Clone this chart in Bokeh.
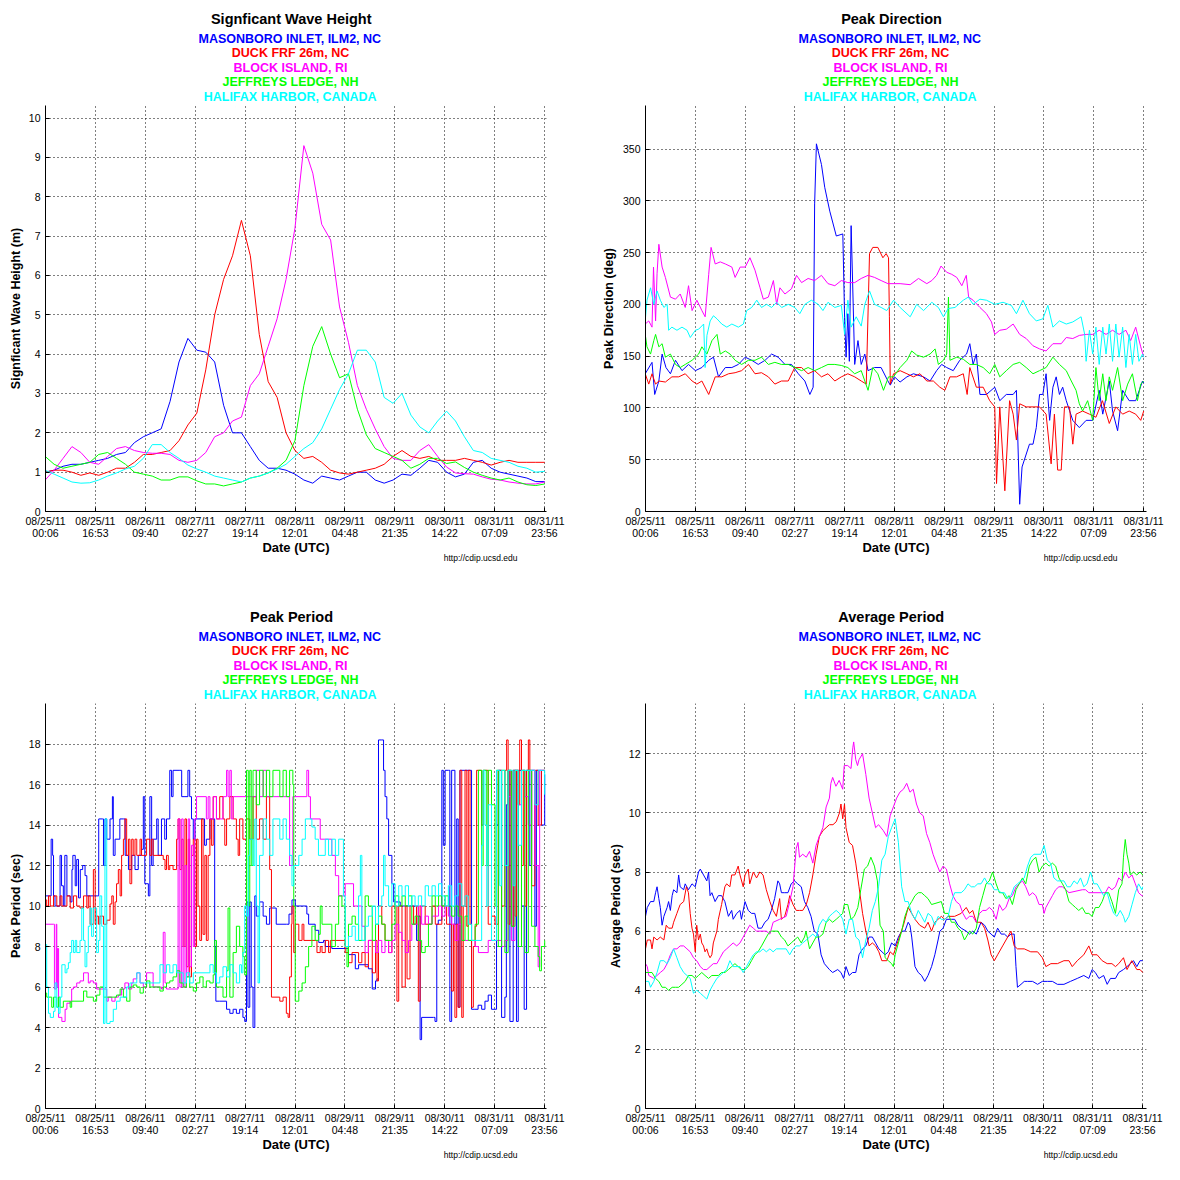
from bokeh.plotting import figure
from bokeh.layouts import gridplot
from bokeh.models import Range1d, FixedTicker, Title
from bokeh.embed import file_html
from bokeh.resources import INLINE

FONT = "Liberation Sans"
STATIONS = ["MASONBORO INLET, ILM2, NC", "DUCK FRF 26m, NC", "BLOCK ISLAND, RI",
            "JEFFREYS LEDGE, NH", "HALIFAX HARBOR, CANADA"]
COLORS = ["#0000FF", "#FF0000", "#FF00FF", "#00FF00", "#00FFFF"]

# x axis: minutes since 08/25/11 00:00 UTC
TICK_MIN = [6, 1013, 2020, 3027, 4034, 5041, 6048, 7055, 8062, 9069, 10076]
TICK_LABELS = ["08/25/11\n00:06", "08/25/11\n16:53", "08/26/11\n09:40", "08/27/11\n02:27",
               "08/27/11\n19:14", "08/28/11\n12:01", "08/29/11\n04:48", "08/29/11\n21:35",
               "08/30/11\n14:22", "08/31/11\n07:09", "08/31/11\n23:56"]

# ---------------- Significant wave height (m), hours since 08/25 00:00 ----------------
HS_HOURS = [0, 3, 6, 9, 12, 15, 18, 21, 24, 27, 30, 33, 36, 39, 42, 45, 48, 51, 54, 57, 60,
            63, 66, 69, 72, 75, 78, 81, 84, 87, 90, 93, 96, 99, 102, 105, 108, 111, 114, 117,
            120, 123, 126, 129, 132, 135, 138, 141, 144, 147, 150, 153, 156, 159, 162, 165, 168]
HS_BLUE = [1.0, 1.05, 1.15, 1.2, 1.2, 1.25, 1.3, 1.35, 1.45, 1.5, 1.75, 1.9, 2.0, 2.1, 2.8, 3.8,
           4.4, 4.1, 4.05, 3.8, 2.7, 2.0, 2.0, 1.65, 1.3, 1.1, 1.1, 1.05, 0.95, 0.8, 0.72, 0.9,
           0.85, 0.8, 0.9, 1.0, 1.0, 0.8, 0.72, 0.8, 0.95, 0.92, 1.1, 1.3, 1.25, 1.0, 0.88, 0.95,
           1.25, 1.3, 1.1, 1.0, 0.95, 0.9, 0.85, 0.76, 0.76]
HS_RED = [1.0, 1.05, 1.05, 1.0, 0.92, 0.98, 0.92, 1.0, 1.1, 1.1, 1.25, 1.45, 1.45, 1.5, 1.55, 1.8,
          2.2, 2.5, 3.6, 5.0, 5.9, 6.5, 7.4, 6.5, 4.5, 3.3, 2.9, 2.0, 1.55, 1.35, 1.4, 1.25, 1.05,
          0.98, 0.95, 1.0, 1.05, 1.1, 1.2, 1.4, 1.55, 1.4, 1.35, 1.4, 1.3, 1.3, 1.3, 1.35, 1.3,
          1.25, 1.18, 1.25, 1.3, 1.25, 1.25, 1.25, 1.25]
HS_MAGENTA = [0.8, 1.05, 1.35, 1.65, 1.5, 1.25, 1.2, 1.4, 1.6, 1.65, 1.55, 1.5, 1.48, 1.48, 1.45,
              1.3, 1.25, 1.3, 1.5, 1.9, 2.0, 2.3, 2.4, 3.2, 3.5, 4.2, 4.9, 5.9, 7.2, 9.3, 8.6, 7.3,
              6.9, 5.2, 4.3, 3.2, 2.6, 2.1, 1.65, 1.35, 1.3, 1.3, 1.55, 1.7, 1.4, 1.13, 0.98, 0.96,
              0.95, 0.88, 0.82, 0.8, 0.75, 0.72, 0.7, 0.7, 0.75]
HS_GREEN = [1.4, 1.2, 1.1, 1.15, 1.2, 1.25, 1.45, 1.5, 1.35, 1.2, 1.0, 0.95, 0.9, 0.8, 0.8, 0.88,
            0.88, 0.78, 0.7, 0.7, 0.65, 0.7, 0.75, 0.85, 0.9, 0.98, 1.1, 1.3, 1.8, 3.2, 4.2, 4.7,
            4.0, 3.4, 3.5, 2.6, 1.95, 1.6, 1.5, 1.4, 1.3, 1.1, 1.2, 1.35, 1.35, 1.22, 1.26, 1.12,
            1.0, 0.92, 0.85, 0.8, 0.85, 0.75, 0.68, 0.66, 0.7]
HS_CYAN = [1.05, 0.95, 0.85, 0.75, 0.72, 0.73, 0.8, 0.9, 0.98, 1.08, 1.15, 1.35, 1.7, 1.7, 1.5,
           1.35, 1.18, 1.08, 1.0, 0.9, 0.85, 0.8, 0.75, 0.85, 0.9, 0.98, 1.08, 1.2, 1.4, 1.6, 1.75,
           2.1, 2.6, 3.1, 3.5, 4.1, 4.1, 3.8, 2.9, 2.75, 3.0, 2.45, 2.15, 2.0, 2.3, 2.55, 2.3, 1.9,
           1.55, 1.5, 1.35, 1.3, 1.25, 1.15, 1.1, 1.0, 1.02]

# ---------------- Peak direction (deg): (hour, value) ----------------
DIR_BLUE = [(0,133),(2.3,144),(3.2,113),(4.6,126),(5.7,152),(7,139),(8.5,133),(10.2,146),(12.4,136),(14.6,142),(16.9,136),(19.1,139),(21.4,146),(23,149),(24.7,130),(27,139),(29.2,139),(31.4,142),(33.7,149),(35.9,146),(38.1,142),(40.4,146),(42.6,152),(44.8,149),(47.1,142),(49.3,142),(51.6,133),(53.8,126),(55.5,113),(56.6,120),(57.1,297),(57.7,355),(59.4,335),(60.5,313),(62.2,290),(64.4,266),(66.6,268),(67.2,187),(67.7,149),(68.3,191),(68.8,145),(69.4,276),(70,210),(70.6,142),(71.7,165),(72.8,142),(74,152),(75.1,136),(77.3,139),(79.5,139),(81.8,126),(82.6,122),(84,130),(85.9,125),(88.2,130),(90.4,133),(93.8,130),(96,126),(98.2,136),(99.9,142),(101.6,139),(103.8,136),(106,146),(108.3,152),(109.4,162),(110.5,142),(111.6,152),(112.8,113),(115,113),(117.8,120),(119.5,107),(121.7,113),(124,113),(125.1,117),(126.2,7),(127,43),(129.5,65),(130.7,65),(131.8,81),(132.9,113),(134,113),(135.1,133),(136.3,88),(137.4,120),(138.5,130),(139.6,113),(140.7,120),(141.9,107),(144.1,88),(146.3,81),(148.6,88),(150.8,88),(153,117),(154.2,94),(156.4,126),(157.5,97),(159.2,78),(160.9,117),(163.1,107),(165.3,107),(167.6,126),(168,124)]
DIR_RED = [(0,133),(1.2,123),(2.3,133),(3.5,123),(4.6,126),(6.8,125),(9,130),(11.3,130),(13.5,133),(15.8,126),(17.4,123),(19.1,126),(21.4,113),(23.6,130),(25.8,130),(28.1,133),(30.3,134),(32.5,136),(34.8,142),(37,133),(39.2,134),(41.5,130),(43.7,123),(45.9,126),(48.2,126),(50.4,139),(52.7,139),(54.9,133),(57.1,136),(59.4,130),(61.6,133),(63.9,126),(66.1,130),(68.3,133),(70.6,130),(72.8,126),(74.5,123),(75.6,249),(76.7,255),(78.4,255),(80.1,245),(81.2,249),(82,245),(82.3,188),(82.6,123),(83.7,133),(85.9,136),(88.2,133),(90.4,130),(92.6,133),(94.9,126),(97.1,126),(99.3,120),(101,117),(102.7,130),(104.9,130),(107.2,133),(108.5,113),(109.4,139),(111.6,120),(113.9,120),(116.1,107),(117.8,101),(118.4,27),(119.5,101),(121.2,20),(122.8,107),(124,94),(125.1,69),(126.2,104),(128.4,101),(130.7,101),(132.9,101),(135.1,94),(136.8,46),(137.9,94),(139,40),(140.2,40),(141.3,101),(143,101),(144.1,65),(145.2,94),(147.4,97),(149.7,94),(151.9,91),(154.1,107),(156.4,85),(158.6,101),(160.9,94),(163.1,97),(165.3,94),(167,88),(168,97)]
DIR_MAGENTA = [(0,181),(1.2,184),(2.3,178),(2.8,236),(3.5,184),(4.0,230),(4.6,258),(5.7,236),(6.8,226),(8.5,207),(10.2,205),(11.8,210),(13.5,197),(14.6,218),(15.8,194),(17.4,204),(19.1,194),(20.2,188),(21.4,229),(22.2,255),(23.6,239),(25.3,241),(27,239),(29.2,236),(30.3,226),(32,236),(33.7,236),(35.3,245),(37,233),(38.7,216),(39.8,205),(41.5,207),(43.2,223),(44.3,200),(45.4,216),(47.1,210),(49.3,215),(51,228),(52.7,221),(54.9,225),(57.1,223),(59.4,228),(61.6,220),(63.9,218),(66.1,223),(68.3,221),(70.6,221),(72.8,225),(75.1,228),(77.3,226),(79.5,223),(81.8,220),(85.9,220),(89.3,219),(92.1,225),(94.9,220),(96.6,223),(98.2,228),(99.7,237),(101.6,231),(103.3,229),(105,226),(106.7,218),(108.2,228),(109,207),(110.5,204),(112.8,197),(115,191),(116.7,183),(117.8,171),(119.5,175),(121.7,176),(124,181),(126.2,171),(128.4,167),(130.7,160),(132.9,157),(135.1,155),(137.4,162),(140.2,162),(141.9,168),(144.1,167),(146.3,170),(148.6,171),(150.8,171),(153,175),(155.3,171),(157.5,175),(159.7,171),(162,175),(163.6,165),(165.3,178),(167,159),(168,149)]
DIR_GREEN = [(0,171),(0.6,159),(1.8,152),(2.9,165),(3.5,171),(4.6,159),(5.7,162),(6.8,149),(8.5,152),(10.2,142),(11.8,139),(13.5,142),(15.8,146),(18,152),(19.1,159),(20.8,152),(22.5,165),(24.2,171),(25.3,152),(27,155),(28.6,152),(30.3,146),(32.5,142),(34.8,146),(37,146),(39.2,149),(41.5,142),(43.7,144),(45.9,142),(48.2,142),(50.4,139),(52.7,136),(54.9,139),(57.1,136),(59.4,139),(61.6,142),(63.9,142),(66.1,141),(68.3,139),(70.6,133),(72.8,136),(75.1,117),(76.7,139),(78.4,133),(80.3,117),(82,130),(83.7,130),(85.9,139),(88.2,146),(89.8,155),(91.5,151),(93.8,149),(96,152),(97.7,157),(98.8,142),(100.5,146),(101.6,152),(102.2,207),(102.7,146),(105,149),(107.2,147),(109.4,142),(111.6,142),(113.9,139),(116.1,133),(117.8,142),(119.5,130),(121.7,136),(124,142),(126.2,144),(128.4,139),(130.7,133),(132.9,136),(135.1,139),(137.4,149),(139.6,142),(141.9,136),(143.6,126),(145.2,117),(146.3,104),(147.4,97),(149.1,107),(150.8,88),(151.9,139),(153,107),(154.2,133),(155.3,107),(156.4,130),(157.5,117),(159.2,139),(160.9,107),(162.6,123),(164.2,133),(165.9,107),(167,123),(168,126)]
DIR_CYAN = [(0,184),(0.6,204),(1.8,216),(2.9,200),(4,213),(5.1,204),(6.3,197),(7.4,200),(7.9,175),(9,178),(10.7,175),(12.4,178),(14.1,175),(15.2,168),(16.9,175),(18,176),(19.7,181),(20.2,139),(20.8,170),(21.9,184),(23,189),(24.2,186),(25.8,181),(27.5,178),(29.2,181),(31.4,178),(33.1,181),(34.2,194),(35.9,197),(37.6,204),(39.2,197),(40.9,200),(42.6,197),(44.3,202),(46,197),(48.2,200),(50.4,197),(52.1,191),(53.8,200),(56,204),(58.3,200),(59.9,194),(61.6,202),(63.9,197),(66.1,199),(67.2,171),(68.3,204),(69.4,178),(71.1,188),(72.8,179),(74,200),(75.6,213),(77.3,200),(79.5,197),(81.4,194),(83.7,204),(85.9,197),(89.3,188),(91.5,200),(93.8,194),(96.6,202),(98.8,197),(100.5,188),(102.1,196),(104.4,197),(107.2,204),(108.9,207),(110.5,200),(112.8,205),(115,204),(117.8,200),(120.6,202),(123.4,199),(125.1,191),(127.3,204),(129.5,191),(131.8,184),(134,186),(135.7,199),(137.4,178),(139.6,184),(141.9,181),(144.1,183),(146.9,188),(148.1,171),(148.6,145),(149.7,175),(150.8,152),(151.9,178),(153,142),(154.2,178),(155.3,152),(156.4,181),(157.5,145),(158.6,181),(159.7,149),(160.9,178),(162,139),(163.1,171),(164.2,142),(165.3,171),(166.4,145),(167.6,152),(168,149)]

# ---------------- Peak period (sec): (hour, value) ----------------
PP_BLUE = [(0.1,10.5),(1.5,10.5),(2,13.3),(2.5,12.5),(2.8,10.5),(3.3,10),(4.5,10),(5,12.5),(5.5,11),(6.1,10),(6.6,12.5),(7.3,10.5),(8.4,10.2),(9,11.8),(9.3,12.5),(10.1,11),(10.6,12.3),(11.2,10.4),(11.8,11.8),(12.6,12),(13.4,11.5),(14,10.5),(17.5,10.5),(18,14.3),(19.2,14.3),(19.6,12),(20.1,14.3),(20.7,13.3),(21.8,14.3),(22.6,15.4),(22.9,12.5),(23.5,13.3),(25.1,14.3),(26.3,14.3),(26.9,12.5),(28,11.8),(29.1,12.5),(30.2,11.8),(31.3,12.5),(32.4,12.8),(33,15.4),(33.5,11.1),(34.7,10.5),(35.2,15.4),(35.8,12),(36.3,13.3),(37.5,14.3),(38,12.5),(39.1,14.3),(40.2,13.3),(40.8,14.3),(41.9,16.7),(42.5,15.4),(43,16.7),(45.3,16.7),(45.9,15.4),(47,15.4),(48,16.7),(48.6,15.4),(49.2,14.3),(49.8,13.3),(50.4,14.3),(53.1,14.3),(53.6,13),(54.2,13.3),(55.4,14.3),(56.5,14.3),(57,8),(57.4,5.3),(58.7,5.3),(61,4.9),(62.1,4.7),(63.2,4.9),(64.3,4.7),(65.4,4.9),(66.5,4.5),(67.1,4.3),(67.7,10.2),(68.2,5),(68.8,10.2),(69.3,6),(69.9,4.0),(70.5,10.5),(71,9.5),(72.1,10.2),(73.3,9.5),(74.4,9.1),(75.5,9.9),(76.6,9.9),(77.7,9.1),(81.1,9.1),(82,9.6),(83,10.3),(84.1,10),(86.4,10),(88,9.6),(88.6,9.1),(90.8,8.8),(92,8.2),(93.6,8.3),(94.2,8),(96.4,7.9),(100.9,7.9),(102,7.6),(104.3,6.9),(105.4,7.1),(108.7,6.9),(110,5.9),(111.1,6.3),(111.6,6.4),(112.1,18.2),(113.2,18.2),(113.8,16.7),(114.3,15.4),(114.9,14.3),(115.5,12.5),(116.6,11.1),(117.2,10.2),(118.3,10.2),(119.4,10),(124.4,10),(124.9,8.3),(125.5,9.5),(126.1,3.4),(126.6,4.5),(130.6,4.5),(131.1,4.3),(131.7,9.1),(132.2,9.3),(133.4,16.7),(133.9,13),(134.5,16.7),(135.6,16.7),(136.1,4.3),(136.7,16.7),(137.8,9.1),(138.4,14.3),(138.9,5),(139.5,16.7),(142.8,16.7),(143.4,4.9),(144.5,4.9),(145.6,5.1),(146.8,4.9),(147.9,5.3),(149,5.6),(150.1,4.9),(151.3,4.9),(151.8,14),(152.4,16.7),(153.5,4.5),(154.6,5.5),(155.1,15),(155.7,16.7),(156.3,4.3),(157.4,16.7),(158.5,4.3),(159.1,16.7),(160.2,10),(161.1,4.9),(161.9,16.7),(163,12),(163.6,16.7),(164.7,9),(165.2,16.7),(166.3,16.7),(166.9,14),(168,16.5)]
PP_RED = [(0.1,10.3),(0.5,10.0),(1.1,10.5),(1.7,10.0),(2.8,10.5),(3.9,10.0),(5,10.5),(5.6,10.0),(6.7,10.0),(7.3,10.5),(8.4,9.9),(9.5,10.5),(10.6,10.0),(11.7,9.9),(12.9,10.5),(14,9.9),(14.5,10.5),(15.1,9.1),(16.2,11.8),(16.8,9.1),(17.3,9.5),(17.9,9.1),(18.4,9.5),(19.6,9.1),(20.7,9.3),(21.8,10.1),(22.4,10.5),(22.9,9.1),(23.5,10.2),(24,11.1),(24.6,11.8),(25.2,10.5),(25.7,12.5),(26.3,13.3),(26.8,14.3),(27.4,12.5),(28,13.3),(28.5,11.1),(29.1,13.3),(29.6,12.5),(30.2,13.3),(30.8,12.5),(31.9,13.3),(32.4,12.5),(34.1,13.3),(35.2,12.5),(35.8,13.3),(36.3,12.5),(39.7,12.3),(40.3,11.8),(40.8,12.5),(41.4,11.8),(41.9,12.0),(43,11.8),(44.2,13.3),(44.7,14.3),(45.3,11.8),(45.9,13.3),(46.4,8.0),(47,14.3),(47.5,7.0),(48.1,13.3),(48.6,6.5),(49.2,12.5),(49.8,13.3),(50.3,8.0),(50.9,13.3),(51.4,10.0),(52,8.3),(52.6,14.3),(53.1,8.6),(53.7,12.5),(54.2,8.3),(54.8,12.5),(55.4,14.3),(55.9,13.0),(56.5,15.4),(57.6,14.3),(58.7,15.4),(59.8,14.3),(60.4,13.0),(61,14.3),(62.1,15.4),(63.2,14.3),(64.3,13.3),(64.9,12.5),(65.4,14.3),(66.5,13.3),(67.7,14.3),(68.8,13.3),(69.9,15.4),(71,13.3),(72.1,14.3),(73.3,13.3),(74.4,15.4),(75.5,11.8),(76.1,5.5),(78.9,5.3),(80,5.5),(81.1,4.7),(81.7,4.5),(82.2,6.5),(82.8,9.1),(83,10.0),(83.6,7.7),(84.1,9.1),(85.3,8.3),(86.4,9.1),(87,8.3),(91.4,7.7),(92.5,8.0),(93.1,7.7),(94.2,8.3),(95.3,7.7),(95.9,8.3),(100.9,7.7),(102,7.2),(103.2,7.7),(105.4,7.2),(106.5,7.7),(107.6,7.0),(108.7,8.3),(110,6.7),(111.1,8.3),(111.6,6.3),(112.1,10.0),(113.2,9.1),(114.3,8.3),(115.5,7.7),(116.6,10.0),(118.3,5.3),(118.9,10.0),(120,6.0),(121.1,10.0),(121.7,6.4),(122.7,10.0),(123.9,9.1),(124.9,10.0),(125.5,5.3),(126.1,10.0),(127.8,9.1),(130.1,10.0),(131.2,9.1),(133.4,10.0),(135,9.1),(136.7,5.8),(137.3,9.1),(137.8,4.5),(138.4,9.1),(138.9,5.0),(139.5,16.7),(140.1,4.5),(140.6,10.0),(141.2,16.7),(141.8,9.0),(142.3,16.7),(142.9,9.1),(143.4,5.0),(144,8.0),(144.6,9.0),(145.1,16.7),(146.8,14.0),(147.3,16.7),(149,9.1),(150.1,9.5),(151.3,9.1),(152.4,16.7),(153.5,10.0),(154.6,16.7),(155.2,18.2),(155.7,9.1),(156.3,16.7),(156.8,9.0),(157.4,16.7),(158,9.5),(158.5,16.7),(159.1,15.0),(159.6,18.2),(160.2,12.0),(160.8,16.7),(161.3,10.0),(161.9,16.7),(162.5,18.2),(163,16.7),(163.6,11.0),(164.7,16.7),(165.8,14.0),(166.9,16.7),(168,16.7)]
PP_MAGENTA = [(0.1,9.1),(2.8,9.1),(3.1,5.9),(3.7,9.1),(3.9,6.0),(4.1,7.9),(4.5,4.5),(5,4.5),(5.6,4.3),(6.7,4.9),(7.3,5.2),(8.4,5.3),(8.9,5.9),(9.5,6.0),(10.6,6.2),(11.7,6.3),(12.9,6.7),(14,6.7),(14.5,6.2),(15.1,6.3),(16.2,6.2),(17.3,5.9),(19.6,5.9),(20.7,5.3),(21.2,5.5),(22.4,5.3),(23.5,5.5),(24.6,5.6),(25.7,5.9),(26.8,6.2),(28,5.9),(29.1,6.2),(29.6,6.4),(30.8,6.7),(31.9,6.2),(33,6.0),(34.1,6.7),(35.8,6.7),(36.3,6.0),(37.5,6.0),(39.1,5.9),(39.7,8.7),(40.3,6.2),(40.8,5.9),(44.2,5.9),(44.7,14.3),(45.3,6.0),(45.9,14.3),(46.4,6.0),(47,12.0),(47.5,6.5),(48.1,14.3),(48.6,7.0),(49.2,13.0),(49.8,8.0),(50.3,14.3),(50.9,15.4),(54.2,14.3),(54.8,15.4),(55.4,14.3),(56.5,15.4),(57.6,14.3),(59.8,15.4),(61,16.7),(61.5,15.4),(62.1,16.7),(62.6,14.3),(63.2,15.4),(71,16.7),(72.1,15.4),(73.3,16.7),(74.4,15.4),(82.2,12.0),(83.3,15.4),(88,16.7),(88.6,15.4),(89.2,14.3),(92.5,13.3),(96.4,12.5),(97.6,11.5),(98.7,10.5),(100.9,11.1),(103.7,10.0),(106.5,9.0),(107.6,7.7),(108.7,8.3),(111.1,7.7),(112.1,8.3),(113.2,7.7),(114.3,8.3),(115.5,7.7),(116.6,8.3),(117.7,9.1),(118.9,8.7),(120,8.3),(121.1,7.7),(122.2,8.3),(123.3,9.1),(125.5,10.0),(126.6,9.1),(127.8,9.5),(128.9,9.1),(130.1,9.5),(132.3,10.0),(133.4,9.5),(134.5,10.0),(135.6,9.5),(136.7,9.1),(137.8,8.3),(138.9,9.1),(140.1,8.3),(144.6,8.0),(145.7,7.7),(149,8.3),(153.5,8.0),(154.6,8.3),(155.7,15.4),(156.8,8.3),(158,16.7),(159.1,15.0),(160.2,16.7),(161.3,15.4),(162.5,14.0),(163.6,16.7),(164.7,12.0),(165.8,7.0),(166.3,16.7),(168,16.7)]
PP_GREEN = [(0.1,5.7),(0.5,5.5),(2.2,5.0),(2.8,5.5),(3.9,5.0),(4.5,5.5),(5,5.0),(6.1,5.3),(8.4,5.0),(8.9,5.3),(12.9,5.8),(14,5.5),(16.2,5.3),(17.3,5.6),(18.4,6.0),(19.6,5.5),(24,5.6),(25.2,5.9),(26.3,5.5),(27.4,5.3),(28.5,6.0),(29.6,6.1),(30.8,6.0),(31.9,5.7),(33,6.0),(34.1,6.3),(35.2,6.0),(38.6,5.8),(39.7,6.0),(40.8,6.2),(41.9,6.3),(43,6.5),(44.2,6.8),(45.3,6.2),(46.4,6.0),(47.5,6.5),(48.6,6.0),(49.8,5.8),(50.9,6.2),(52,6.5),(53.1,6.0),(54.2,6.3),(55.4,6.2),(56.5,6.6),(57,8.3),(57.6,6.0),(59.8,5.5),(61,6.8),(61.5,9.9),(62.1,5.5),(63.2,7.7),(64.3,9.0),(65.4,8.0),(66.5,7.5),(67.1,6.6),(67.7,16.7),(68.3,10.0),(68.8,16.7),(69.3,12.0),(69.9,16.7),(71,15.0),(72.1,16.7),(73.3,15.4),(74.4,16.7),(75.5,15.4),(76.6,16.7),(78.9,15.4),(80,16.7),(81.1,15.4),(82.2,16.7),(83.3,16.0),(83.6,10.0),(84.1,5.3),(85.3,5.8),(86.4,6.2),(87.5,7.0),(88.6,8.0),(89.7,9.0),(90.8,8.3),(91.9,8.6),(92.5,10.0),(93.1,9.1),(96.4,8.0),(97.6,9.1),(98.7,10.5),(99.8,10.0),(100.9,8.0),(101.5,7.0),(102,9.1),(103.2,9.5),(104.3,9.1),(105.4,8.3),(107.6,10.5),(108.7,10.0),(110,8.3),(111.1,9.1),(112.1,9.5),(113.2,9.1),(114.3,8.3),(116.6,9.1),(117.7,10.5),(118.9,10.0),(120,10.5),(121.1,10.0),(122.2,10.5),(123.3,9.1),(124.4,9.5),(125.5,8.3),(126.6,7.7),(127.8,8.0),(128.9,9.1),(130.1,10.5),(131.2,10.0),(132.3,10.5),(133.4,10.0),(134.5,10.5),(135.6,10.0),(136.7,9.5),(137.8,10.0),(138.9,9.5),(140.1,8.3),(141.2,9.5),(142.3,8.3),(144.6,9.1),(145.7,16.7),(146.8,12.0),(147.3,16.7),(148.5,12.0),(149,16.7),(150.1,15.0),(151.3,10.0),(151.8,16.7),(152.4,8.0),(153.5,16.7),(154.6,7.7),(155.7,16.7),(156.8,9.0),(158,16.7),(159.1,8.0),(160.2,16.7),(161.3,7.7),(162.5,16.7),(163.6,9.0),(164.7,8.0),(165.8,7.5),(166.3,6.8),(166.9,8.0),(168,8.3)]
PP_CYAN = [(0.1,8.1),(0.5,6.0),(1.1,4.7),(1.7,4.5),(2.8,4.8),(3.3,6.2),(3.9,5.0),(4.5,4.7),(5,5.5),(5.6,7.1),(6.7,6.7),(7.3,6.9),(7.8,7.2),(8.4,7.7),(8.9,8.3),(9.5,7.7),(10.1,8.3),(10.6,7.7),(11.7,8.3),(12.3,9.9),(12.9,8.3),(13.4,7.0),(14,7.7),(14.5,9.0),(15.1,9.9),(15.6,8.5),(16.2,9.9),(17.3,7.7),(17.9,8.3),(18.4,10.5),(19,9.0),(19.6,4.2),(20.1,14.3),(20.7,4.2),(21.8,4.3),(22.9,4.9),(24,5.3),(25.2,5.5),(27.4,6.0),(28.5,6.2),(30.8,6.7),(31.9,6.2),(38.6,7.1),(39.7,6.7),(40.8,7.1),(41.9,6.7),(43,7.1),(44.2,6.7),(46.4,6.2),(47.5,6.7),(48.6,6.2),(49.8,6.7),(55.4,7.1),(56.5,6.7),(57.6,6.2),(58.7,6.5),(59.8,7.0),(61,6.5),(62.1,7.1),(63.2,6.7),(64.3,6.2),(65.4,7.1),(66,6.7),(66.5,7.7),(67.1,10.0),(67.7,9.5),(68.3,12.5),(68.8,13.3),(69.9,12.0),(70.5,14.3),(71,10.0),(71.6,6.2),(72.1,12.5),(73.3,14.3),(74.4,13.3),(75.5,12.5),(76.6,14.3),(78.9,13.3),(80,14.3),(81.1,13.3),(82.2,12.5),(83,11.0),(83.6,12.0),(85.3,12.5),(86.4,13.3),(87.5,14.3),(89.7,13.9),(90.8,13.3),(91.9,12.5),(94.2,13.3),(95.3,12.5),(96.4,13.3),(97.6,12.5),(98.7,13.3),(100.3,10.5),(100.9,8.0),(102,8.5),(103.2,9.0),(104.3,8.3),(105.4,10.5),(106,12.5),(106.5,8.3),(107.6,9.0),(108.7,9.5),(110,10.0),(111.1,9.1),(112.1,10.0),(113.2,10.5),(113.8,12.5),(114.3,11.0),(115.5,10.0),(116.6,11.1),(117.7,10.0),(118.9,11.0),(120,10.5),(121.1,11.0),(122.2,10.0),(123.3,10.5),(124.4,10.0),(125.5,10.5),(126.6,10.0),(127.8,11.0),(128.9,10.5),(130.1,11.0),(131.2,10.5),(132.3,11.1),(133.4,10.5),(134.5,10.0),(135.6,11.0),(136.7,10.0),(137.8,10.5),(138.9,11.1),(140.1,10.0),(141.2,10.5),(142.3,9.1),(143.4,8.3),(146.8,13.0),(147.3,16.7),(147.9,14.0),(148.5,10.0),(149,15.0),(150.1,8.3),(151.8,16.7),(152.9,11.0),(153.5,16.7),(154.6,12.0),(155.7,16.7),(157.4,11.0),(158,16.7),(159.1,13.0),(160.2,16.7),(164.7,15.0),(165.8,16.7),(168,15.5)]

# ---------------- Average period (sec): (hour, value) ----------------
AP_BLUE = [(0.1,6.5),(0.7,6.8),(1.8,7.0),(2.9,7.0),(3.5,7.3),(4,7.5),(4.6,7.1),(5.1,6.8),(5.7,6.2),(6.3,6.5),(7.4,6.8),(7.9,7.0),(8.5,6.7),(9.1,7.2),(9.6,7.4),(10.7,7.3),(11.3,7.9),(11.8,7.5),(13,7.4),(13.5,7.6),(14.6,7.4),(15.8,7.6),(16.9,7.5),(18,8.0),(18.6,8.1),(19.7,7.9),(20.8,7.7),(21.4,8.0),(21.9,7.2),(22.5,7.3),(23.6,7.0),(24.7,7.2),(25.8,7.2),(26.9,7.0),(28.1,6.5),(29.2,6.7),(29.7,6.4),(30.9,6.6),(32,6.7),(32.5,6.4),(33.7,7.0),(34.8,6.7),(35.9,6.6),(37,6.6),(38.1,6.1),(39.3,6.1),(40.4,6.3),(41.5,6.4),(42.6,6.7),(43.7,7.1),(44.8,7.7),(45.4,7.6),(46,7.3),(47.1,7.3),(48.2,7.3),(49.3,7.6),(50.4,7.7),(51.5,7.6),(52.7,7.5),(53.8,7.0),(54.9,6.8),(56,6.5),(57.1,6.0),(58.3,5.9),(59.4,5.2),(60.5,4.9),(62.2,4.7),(63.3,4.6),(65,4.7),(66.1,4.6),(67,4.4),(67.8,4.8),(68.9,4.5),(70,4.6),(71.1,4.6),(72.2,5.2),(73.4,5.4),(74.5,5.5),(75.6,5.8),(76.7,5.8),(77.8,5.6),(78.9,5.4),(81,5.2),(82.1,5.3),(83.2,5.6),(84.4,5.5),(85.5,5.8),(86.6,6.0),(87.7,6.0),(88.8,6.3),(89.4,6.2),(90,5.8),(91.1,4.8),(92.2,4.6),(93.3,4.5),(94.4,4.3),(95.5,4.5),(96.7,4.8),(97.8,5.2),(98.9,5.7),(99.5,6.0),(100.6,6.1),(101.7,6.4),(103.4,6.4),(104.5,6.4),(105.6,6.2),(106.7,6.1),(108.4,6.0),(109.5,5.9),(110.6,6.0),(111.8,5.9),(113.4,6.3),(114.6,6.2),(115.7,6.0),(116.8,5.9),(117.9,5.8),(119,6.1),(120.2,5.9),(121.3,5.9),(122.4,5.8),(123.5,5.9),(124.6,5.9),(125.2,4.8),(125.7,4.1),(126.9,4.2),(128,4.3),(129.1,4.3),(130.8,4.3),(132.5,4.2),(134.1,4.3),(135.8,4.3),(137.5,4.3),(139.2,4.2),(141.4,4.2),(143.6,4.3),(145.9,4.4),(148.1,4.5),(149.8,4.4),(150.9,4.7),(152,4.6),(153.2,4.4),(154.8,4.5),(156,4.2),(157.1,4.4),(158.8,4.4),(159.9,4.6),(161.5,4.7),(162.7,4.8),(163.8,4.9),(164.9,5.0),(166,4.8),(167.1,5.0),(168,5.0)]
AP_RED = [(0.1,5.4),(0.7,5.7),(1.8,5.7),(2.3,5.4),(2.9,5.8),(4,5.7),(5.1,5.8),(6.3,5.7),(7.1,6.2),(7.9,6.1),(9.1,6.1),(9.6,6.3),(10.7,6.6),(11.8,6.9),(13,7.0),(13.9,7.5),(14.6,7.3),(15.2,6.6),(15.8,6.1),(16.3,5.9),(16.9,5.3),(17.4,6.2),(18,5.7),(18.6,5.9),(19.1,5.6),(19.7,5.5),(20.2,5.3),(20.8,5.4),(21.4,5.2),(21.9,5.1),(22.5,5.2),(23,5.6),(24.2,6.0),(24.7,6.4),(25.8,6.9),(26.9,7.5),(27.5,7.6),(28.6,7.5),(29.2,7.9),(30.3,7.9),(31.4,8.2),(32,7.9),(33.1,7.5),(33.7,7.9),(34.8,8.1),(35.3,7.6),(36.5,8.0),(37.6,7.8),(38.7,8.0),(39.8,7.9),(40.9,7.4),(42.1,7.0),(43.2,6.7),(44.3,6.5),(45.4,7.1),(46,6.4),(47.1,6.5),(48.2,6.9),(48.8,7.2),(49.9,6.9),(51,6.7),(52.1,6.7),(53.2,6.7),(54.4,6.9),(55.5,7.3),(56.6,7.9),(57.7,8.6),(58.8,9.2),(60,9.4),(61.1,9.5),(62.2,9.6),(63.4,9.6),(64.5,9.7),(65.6,10.0),(66.1,10.3),(66.7,9.8),(67.3,10.3),(67.8,9.5),(68.9,9.0),(70,8.9),(71.1,8.3),(72.2,7.5),(73.4,6.6),(74.5,6.0),(75.6,5.5),(76.7,5.6),(77.8,5.5),(78.9,5.3),(79.9,5.0),(81.6,5.0),(82.7,5.3),(83.8,5.2),(85.5,5.7),(87.2,6.2),(88.8,6.8),(90,6.6),(91.1,6.4),(92.7,6.2),(94.4,6.1),(95.5,6.3),(96.7,6.0),(97.8,6.3),(98.9,6.4),(100,6.5),(101.1,6.4),(102.3,6.5),(104.5,6.5),(106.7,6.6),(108.4,6.8),(109.5,6.6),(110.6,6.7),(111.8,6.3),(113.4,6.3),(114.6,6.1),(115.7,5.7),(116.8,5.2),(117.9,5.0),(119,5.2),(120.7,5.5),(122.4,5.8),(123.5,6.0),(124.6,5.5),(125.7,5.4),(128,5.4),(130.2,5.3),(132.5,5.3),(134.1,5.1),(135.3,4.8),(137,4.9),(139.2,4.9),(141.4,5.0),(143.1,5.0),(144.2,4.8),(145.9,5.0),(148.1,5.2),(149.8,5.5),(150.9,5.2),(152.6,5.2),(154.3,5.0),(156,4.9),(157.6,4.9),(158.8,4.8),(159.9,4.9),(161.5,5.1),(162.7,4.7),(164.3,5.0),(166,4.7),(167.1,4.7),(168,4.6)]
AP_MAGENTA = [(0.1,4.9),(0.7,4.8),(1.2,4.5),(2.9,4.4),(4,4.5),(5.1,4.6),(6.3,4.7),(7.4,4.9),(8.5,5.2),(9.6,5.4),(10.7,5.4),(11.8,5.5),(13,5.5),(14.1,5.4),(15.2,5.3),(16.3,5.1),(17.4,5.0),(18.6,4.8),(19.7,4.7),(20.8,4.7),(21.9,4.8),(23,4.9),(24.2,4.9),(25.3,5.1),(26.4,5.3),(27.5,5.4),(28.6,5.5),(29.7,5.6),(30.9,5.5),(32,5.6),(33.1,5.8),(34.2,6.0),(35.3,6.2),(36.5,6.1),(37.6,6.0),(40.9,6.0),(42.1,5.9),(43.2,6.3),(45.4,6.4),(47.6,6.5),(48.8,7.0),(49.9,7.5),(51,8.8),(51.6,9.0),(52.1,8.5),(53.2,8.6),(54.4,8.5),(55.5,8.7),(56.6,8.3),(57.7,8.9),(58.8,9.2),(60,9.5),(61.1,10.2),(62.2,10.5),(62.7,11.0),(63.3,11.2),(64.4,10.9),(65.5,11.1),(66.7,10.8),(67.2,11.6),(68.4,11.6),(69.5,11.5),(70.1,12.2),(70.4,12.4),(71.1,11.8),(71.7,11.6),(72.2,11.8),(73.4,12.0),(74.5,11.3),(75.6,10.5),(76.7,10.0),(77.8,9.5),(78.8,9.6),(80.4,9.4),(81.6,9.2),(82.7,9.9),(83.8,10.2),(84.9,10.5),(86,10.7),(87.2,10.8),(88.3,11.0),(89.4,10.7),(90.5,10.8),(91.6,10.3),(92.7,10.0),(93.9,9.9),(95,9.3),(96.1,9.0),(97.2,8.6),(98.3,8.3),(99.5,8.0),(100.6,8.2),(101.7,8.1),(102.8,7.6),(103.9,7.2),(105,7.0),(106.2,6.9),(107.3,6.6),(108.4,6.4),(109.5,6.5),(110.6,6.5),(111.8,6.3),(112.9,6.6),(114,6.7),(115.1,6.7),(116.2,6.8),(117.3,6.7),(118.5,6.4),(119.6,6.9),(120.7,6.7),(121.8,6.8),(122.9,7.1),(124,7.2),(125.2,7.5),(126.3,7.6),(127.4,7.7),(128.5,7.5),(129.7,7.2),(130.8,7.3),(131.9,7.2),(133,6.9),(134.1,6.9),(134.7,6.6),(135.3,6.8),(136.4,7.0),(137.5,7.2),(138.6,7.4),(139.7,7.5),(140.9,7.5),(142,7.4),(143.1,7.3),(147.6,7.4),(148.7,7.4),(149.8,7.3),(155.4,7.3),(156.5,7.5),(157.6,7.4),(158.8,7.5),(159.9,7.8),(161,7.7),(162.1,8.0),(163.3,7.8),(164.4,7.9),(165.5,7.6),(166.6,7.3),(167.7,7.2),(168,7.2)]
AP_GREEN = [(0.1,4.6),(1.2,4.6),(2.3,4.6),(3.5,4.4),(4.6,4.3),(5.7,4.1),(6.8,4.1),(7.9,4.0),(9.1,4.1),(10.2,4.1),(11.3,4.1),(12.4,4.2),(13.5,4.3),(14.6,4.5),(15.8,4.5),(16.9,4.4),(18,4.5),(19.1,4.6),(20.2,4.5),(21.4,4.4),(22.5,4.5),(24.7,4.5),(25.8,4.6),(26.9,4.6),(28.1,4.7),(29.2,4.8),(30.3,4.9),(31.4,4.8),(32.5,4.7),(33.7,4.7),(34.8,4.8),(35.9,5.0),(37,5.2),(38.1,5.3),(39.3,5.5),(40.4,5.7),(41.5,5.9),(42.6,6.0),(44.8,6.0),(46,5.8),(47.1,5.7),(48.2,5.5),(49.3,5.6),(50.4,5.7),(51.5,5.8),(52.7,5.6),(53.8,5.8),(54.3,6.0),(55.5,5.4),(56.6,5.6),(57.7,5.8),(58.8,5.8),(60,5.9),(61.1,6.3),(62.2,6.4),(63.3,6.3),(64.5,6.4),(65.6,6.5),(66.7,6.6),(67.2,6.9),(68.4,6.9),(69.5,6.4),(70.6,6.5),(71.8,6.8),(72.8,7.4),(74,8.1),(75.1,8.2),(76.2,8.5),(77.4,8.2),(78.4,7.7),(79.3,6.2),(80.4,6.0),(81,5.1),(82.1,5.0),(83.2,4.9),(83.8,4.8),(84.4,5.2),(85.5,5.6),(86.6,6.0),(87.7,6.5),(88.8,6.8),(90,7.0),(91.1,7.2),(92.2,7.3),(93.3,7.3),(94.4,7.2),(95.5,7.1),(96.7,6.9),(100,7.0),(101.1,6.6),(102.3,6.6),(103.4,6.3),(104.5,6.3),(105.6,6.1),(106.7,6.0),(107.8,5.7),(108.4,5.8),(109.5,6.0),(110.6,5.9),(111.8,6.1),(112.9,6.8),(114,7.2),(115.1,7.6),(116.2,7.7),(117.3,8.0),(118.5,7.6),(119.6,7.3),(120.7,7.3),(121.8,7.1),(122.9,7.2),(124,6.9),(125.2,7.4),(126.3,7.6),(127.4,7.8),(128.5,7.6),(129.7,8.2),(130.8,8.4),(131.9,8.5),(133,8.0),(134.1,8.2),(135.3,8.3),(136.4,8.2),(137.5,8.3),(138.6,8.2),(139.7,7.8),(140.9,7.6),(142,7.4),(143.1,7.0),(144.2,6.9),(145.3,6.8),(146.4,6.7),(147.6,6.8),(148.7,6.6),(149.8,6.6),(150.9,6.5),(152,6.8),(153.2,6.8),(154.3,7.0),(155.4,7.3),(156.5,7.3),(157.6,7.0),(158.8,6.6),(159.9,7.4),(161,7.6),(161.5,8.5),(162.1,9.1),(162.7,8.6),(163.3,8.3),(163.8,7.9),(164.9,8.0),(166,7.9),(167.1,8.0),(168,7.9)]
AP_CYAN = [(0.1,4.3),(1.2,4.3),(1.8,4.1),(2.9,4.3),(4,4.6),(5.1,5.0),(6.3,5.0),(7.4,4.9),(8.5,5.1),(9.6,5.4),(10.7,5.1),(11.8,4.8),(13,4.6),(14.1,4.5),(15.2,4.4),(16.3,3.9),(17.4,4.0),(18.6,3.9),(19.7,3.8),(20.8,3.7),(21.9,4.0),(23,4.2),(24.2,4.4),(25.3,4.5),(26.4,4.6),(27.5,4.7),(28.6,5.0),(29.7,4.8),(32,4.8),(33.1,4.6),(34.2,4.8),(35.3,5.0),(36.5,5.2),(37.6,5.3),(38.7,5.3),(39.8,5.4),(40.9,5.3),(42.1,5.4),(43.2,5.3),(44.3,5.4),(47.6,5.4),(48.8,5.2),(49.9,5.4),(51,5.5),(52.1,5.5),(53.2,5.6),(54.4,5.7),(55.5,5.8),(56.6,5.9),(57.7,5.8),(58.8,6.2),(60,6.4),(61.1,6.3),(62.2,6.5),(63.3,6.6),(64.5,6.7),(65.6,6.6),(66.7,6.4),(67.8,5.9),(68.9,6.4),(70,6.4),(71.1,5.8),(72.2,5.7),(73.4,5.1),(74.5,5.7),(75.6,6.1),(76.7,6.7),(77.7,7.0),(78.8,7.5),(79.9,8.4),(81,8.6),(82.1,9.2),(83.2,9.5),(84.4,9.8),(85.5,9.0),(86.6,7.5),(87.7,7.0),(88.8,7.0),(90,6.6),(91.1,6.4),(92.2,6.7),(93.3,6.5),(94.4,6.3),(95.5,6.6),(96.7,6.5),(97.8,6.2),(98.9,6.5),(100,6.4),(101.1,6.4),(102.3,6.5),(103.4,7.0),(104.5,7.3),(106.7,7.3),(107.8,7.4),(109,7.6),(110.1,7.5),(111.2,7.5),(112.3,7.6),(113.4,7.6),(114.6,7.8),(115.7,7.6),(116.8,7.6),(117.9,7.4),(119,7.4),(120.2,7.3),(121.3,7.3),(122.4,7.1),(123.5,7.2),(124.6,7.5),(125.7,7.6),(126.9,7.7),(128,7.8),(129.1,8.2),(130.2,8.5),(131.3,8.6),(133.6,8.6),(134.7,8.9),(135.8,8.4),(136.9,8.3),(138,7.8),(139.2,7.7),(141.4,7.7),(142.5,7.5),(143.6,7.5),(144.8,7.7),(145.9,7.6),(147,7.8),(148.1,7.5),(149.2,7.6),(150.4,8.0),(151.5,7.6),(152.6,7.6),(153.7,7.4),(154.8,7.2),(156,7.3),(157.1,6.9),(158.2,6.6),(159.3,6.5),(160.4,6.7),(161.5,6.5),(162.1,6.3),(163.3,6.5),(164.4,6.9),(165.5,7.3),(166.6,7.6),(167.7,7.4),(168,7.5)]


def split(pairs):
    return [p[0] for p in pairs], [p[1] for p in pairs]


# advance widths (1/1000 em) of the bold sans face, used to centre the heading lines
BOLD_WIDTHS = {" ": 278, ",": 278, "(": 333, ")": 333, "2": 556, "6": 556,
               "A": 722, "B": 722, "C": 722, "D": 722, "E": 667, "F": 611, "G": 778,
               "H": 722, "I": 278, "J": 556, "K": 722, "L": 611, "M": 833, "N": 722,
               "O": 778, "P": 667, "R": 722, "S": 667, "T": 611, "U": 722, "V": 667,
               "W": 944, "X": 667, "Y": 667, "a": 556, "c": 556, "d": 611, "e": 556,
               "f": 333, "g": 611, "h": 611, "i": 278, "k": 556, "m": 889, "n": 611,
               "o": 611, "r": 389, "t": 333, "v": 556}


def text_width(s, size):
    return sum(BOLD_WIDTHS.get(ch, 600) for ch in s) * size / 1000.0


# standoffs that space the five station lines (nearest the frame first) and the title
LINE_STANDOFFS = [2, -5, 2, -5, 2]
TITLE_STANDOFF = 4
HEAD_CENTER = 245  # heading centre, px right of the frame's left edge


def make_panel(width, height, left, right, top, bottom, title, ylabel, ylabel_standoff,
               ymax, yticks, series, step=False):
    fw = width - left - right
    x_end = TICK_MIN[0] + fw * (TICK_MIN[-1] - TICK_MIN[0]) / 500.0
    p = figure(width=width, height=height, output_backend="svg", toolbar_location=None,
               title=None,
               x_range=Range1d(TICK_MIN[0], x_end), y_range=Range1d(0, ymax),
               min_border_left=left, min_border_right=right,
               min_border_top=top, min_border_bottom=bottom)
    p.outline_line_color = None
    p.background_fill_color = "white"
    p.border_fill_color = "white"

    p.xaxis.ticker = FixedTicker(ticks=TICK_MIN)
    p.xaxis.major_label_overrides = {m: lab for m, lab in zip(TICK_MIN, TICK_LABELS)}
    p.yaxis.ticker = FixedTicker(ticks=yticks)
    for ax in (p.xaxis, p.yaxis):
        ax.axis_line_color = "black"
        ax.axis_line_width = 1
        ax.major_tick_line_color = "black"
        ax.major_tick_in = 4
        ax.major_tick_out = 0
        ax.minor_tick_in = 0
        ax.minor_tick_out = 0
        ax.major_label_text_font = FONT
        ax.major_label_text_font_size = "10.5px"
        ax.major_label_text_color = "black"
        ax.axis_label_text_font = FONT
        ax.axis_label_text_font_style = "bold"
        ax.axis_label_text_color = "black"
    p.xaxis.major_label_standoff = 3
    p.xaxis.major_label_text_line_height = 1.0
    p.yaxis.major_label_standoff = 5
    p.xaxis.axis_label = "Date (UTC)"
    p.xaxis.axis_label_text_font_size = "13px"
    p.xaxis.axis_label_standoff = -2
    p.yaxis.axis_label = ylabel
    p.yaxis.axis_label_text_font_size = "12.5px"
    p.yaxis.axis_label_standoff = ylabel_standoff
    for g in (p.xgrid, p.ygrid):
        g.grid_line_color = "black"
        g.grid_line_dash = "1 3"
        g.grid_line_width = 1

    for (xs, ys), col in zip(series, COLORS):
        xm = [x * 60.0 for x in xs]
        if step:
            p.step(xm, ys, mode="after", line_color=col, line_width=1)
        else:
            p.line(xm, ys, line_color=col, line_width=1)

    # station lines: nearest to the frame first (HALIFAX ... MASONBORO), then the title
    for name, col, so in zip(STATIONS[::-1], COLORS[::-1], LINE_STANDOFFS):
        p.add_layout(Title(text=name, align="left",
                           offset=HEAD_CENTER - text_width(name, 12.5) / 2,
                           vertical_align="middle", standoff=so, text_font=FONT,
                           text_font_size="12.5px", text_font_style="bold",
                           text_color=col), "above")
    p.add_layout(Title(text=title, align="left",
                       offset=HEAD_CENTER + 1 - text_width(title, 14.5) / 2,
                       vertical_align="middle", standoff=TITLE_STANDOFF, text_font=FONT,
                       text_font_size="14.5px", text_font_style="bold",
                       text_color="black"), "above")
    p.add_layout(Title(text="http://cdip.ucsd.edu", align="right", offset=29,
                       vertical_align="middle", standoff=-21, text_font=FONT,
                       text_font_size="8.5px", text_font_style="normal",
                       text_color="black"), "below")
    return p


hs_series = [(HS_HOURS, HS_BLUE), (HS_HOURS, HS_RED), (HS_HOURS, HS_MAGENTA),
             (HS_HOURS, HS_GREEN), (HS_HOURS, HS_CYAN)]
dir_series = [split(s) for s in (DIR_BLUE, DIR_RED, DIR_MAGENTA, DIR_GREEN, DIR_CYAN)]
pp_series = [split(s) for s in (PP_BLUE, PP_RED, PP_MAGENTA, PP_GREEN, PP_CYAN)]
ap_series = [split(s) for s in (AP_BLUE, AP_RED, AP_MAGENTA, AP_GREEN, AP_CYAN)]

p1 = make_panel(598, 598, 44, 52, 105, 87, "Signficant Wave Height",
                "Signficant Wave Height (m)", 3, 10.32, list(range(0, 11)), hs_series)
p2 = make_panel(576, 598, 45, 28, 105, 87, "Peak Direction",
                "Peak Direction (deg)", 4, 392, [0, 50, 100, 150, 200, 250, 300, 350],
                dir_series)
p3 = make_panel(598, 578, 45, 51, 105, 68, "Peak Period",
                "Peak Period (sec)", 3, 20, [0, 2, 4, 6, 8, 10, 12, 14, 16, 18],
                pp_series, step=True)
p4 = make_panel(576, 578, 44, 28, 105, 68, "Average Period",
                "Average Period (sec)", 3, 13.7, [0, 2, 4, 6, 8, 10, 12], ap_series)

grid = gridplot([[p1, p2], [p3, p4]], toolbar_location=None)
open("out.html", "w").write(file_html(grid, INLINE))
